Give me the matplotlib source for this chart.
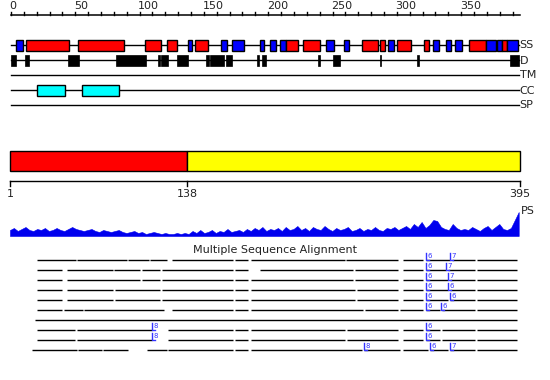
import matplotlib.pyplot as plt
import numpy as np

SEQ_LEN = 395

# secondary structure: H = helix (red), E = strand (blue)
SS_START = [4, 12, 52, 104, 121, 138, 143, 163, 172, 194, 201, 209, 214, 227, 245, 259,
            273, 287, 293, 300, 321, 328, 338, 345, 356, 369, 378, 382, 386]
SS_END   = [9, 45, 88, 117, 129, 141, 153, 168, 181, 197, 206, 214, 223, 240, 251, 263,
            285, 291, 298, 311, 325, 333, 342, 351, 369, 377, 382, 386, 394]
SS_TYPE  = ['E', 'H', 'H', 'H', 'H', 'E', 'H', 'E', 'E', 'E', 'E', 'E', 'H', 'H', 'E', 'E',
            'H', 'H', 'E', 'H', 'H', 'E', 'E', 'E', 'H', 'E', 'E', 'H', 'E']

# disordered regions
D_START = [0, 11, 44, 82, 114, 117, 129, 152, 155, 167, 191, 195, 239, 250, 287, 316, 388]
D_END   = [4, 14, 53, 105, 116, 122, 138, 154, 166, 172, 193, 198, 240, 256, 288, 317, 395]

# coiled coils
CC_START = [20, 55]
CC_END   = [42, 84]

# domains
DOM_START = [1, 138]
DOM_END   = [138, 395]
DOM_COLOR = ['#ff0000', '#ffff00']

# PS profile, one value every 3 residues (pixel height above baseline)
PS_POS = list(range(1, 396, 3))
PS_VAL = [6, 8, 5, 7, 9, 6, 5, 7, 6, 8,
          5, 6, 8, 6, 5, 7, 9, 7, 6, 5,
          6, 7, 5, 4, 6, 5, 4, 5, 6, 4,
          3, 4, 5, 3, 4, 2, 3, 4, 3, 2,
          3, 2, 2, 3, 2, 3, 2, 5, 3, 6,
          3, 4, 6, 3, 5, 4, 7, 4, 5, 6,
          4, 7, 5, 8, 6, 9, 5, 7, 6, 8,
          5, 9, 6, 7, 10, 6, 8, 5, 9, 7,
          6, 10, 7, 5, 8, 6, 7, 9, 5, 6,
          8, 5, 7, 6, 9, 6, 5, 8, 7, 9,
          6, 8, 10, 7, 12, 9, 14, 8, 11, 16,
          15, 9, 7, 6, 12, 8, 6, 7, 6, 9,
          7, 5, 8, 10, 6, 9, 12, 7, 6, 8,
          16, 24]

# multiple sequence alignment rows: segments (start, end) in alignment columns
MSA_ROWS = [
    [(37, 76), (77, 127), (128, 149), (150, 167), (172, 233), (235, 248), (251, 345), (346, 398), (403, 423), (426, 450), (452, 475), (477, 517)],
    [(37, 62), (67, 113), (114, 140), (142, 160), (162, 233), (235, 248), (260, 353), (355, 398), (403, 423), (426, 446), (448, 475), (477, 517)],
    [(37, 62), (67, 140), (142, 160), (162, 233), (235, 248), (251, 353), (355, 398), (403, 423), (426, 448), (450, 475), (477, 517)],
    [(37, 62), (67, 113), (115, 160), (162, 233), (235, 248), (251, 355), (357, 398), (403, 423), (426, 448), (450, 475), (477, 517)],
    [(37, 62), (67, 113), (115, 160), (162, 233), (235, 248), (251, 355), (357, 398), (403, 423), (426, 448), (450, 475), (477, 517)],
    [(37, 62), (64, 83), (84, 164), (172, 233), (235, 248), (251, 363), (365, 398), (400, 423), (426, 440), (442, 475), (477, 517)],
    [(35, 517)],
    [(37, 75), (77, 152), (168, 233), (235, 248), (251, 345), (347, 398), (403, 423), (426, 440), (442, 475), (477, 517)],
    [(37, 75), (77, 152), (168, 233), (235, 248), (251, 345), (347, 398), (403, 423), (426, 440), (442, 475), (477, 517)],
    [(32, 77), (78, 102), (103, 128), (147, 167), (168, 233), (235, 248), (251, 362), (364, 400), (403, 428), (430, 448), (450, 475), (477, 517)],
]
# blue motif markers: (row, column, label)
MARK_ROW = [0, 0, 1, 1, 2, 2, 3, 3, 4, 4, 5, 5, 7, 7, 8, 8, 9, 9, 9]
MARK_COL = [426, 450, 426, 446, 426, 448, 426, 448, 426, 450, 426, 441, 152, 426, 152, 426, 364, 430, 450]
MARK_TXT = ['6', '7', '6', '7', '6', '7', '6', '6', '6', '6', '6', '6', '8', '6', '8', '6', '8', '6', '7']

fig = plt.figure(figsize=(5.5, 3.8), dpi=100)


def overlay(xlim):
    ax = fig.add_axes([0, 0, 1, 1])
    ax.set_xlim(*xlim)
    ax.set_ylim(380, 0)
    ax.axis('off')
    return ax


# ---- top panel: residue ruler + feature tracks ----
sc = 508 / SEQ_LEN
ax = overlay((-11 / sc, (550 - 11) / sc))
ax.plot([0, SEQ_LEN + 1], [15, 15], color='black', lw=1.1)
for t in range(0, SEQ_LEN, 10):
    ax.plot([t, t], [11.5, 15], color='black', lw=1)
    if t % 50 == 0:
        ax.text(t - 1, 11, str(t), fontsize=8, ha='left', va='bottom', color='#222222')

TRACKS = ['SS', 'D', 'TM', 'CC', 'SP']
TRACK_Y = [45, 60, 75, 90, 105]
for name, y in zip(TRACKS, TRACK_Y):
    ax.plot([0, SEQ_LEN], [y, y], color='black', lw=1, zorder=1)
    ax.text(SEQ_LEN + 0.5, y + 0.5, name, fontsize=8, va='center', ha='left', color='#222222')

for s, e, k in zip(SS_START, SS_END, SS_TYPE):
    ax.add_patch(plt.Rectangle((s, 40), e - s, 10.5, facecolor='#ff0000' if k == 'H' else '#0000ff',
                               edgecolor='black', lw=1, zorder=2))
for s, e in zip(D_START, D_END):
    ax.add_patch(plt.Rectangle((s, 55), e - s, 11, facecolor='black', edgecolor='black', lw=0.5, zorder=2))
for s, e in zip(CC_START, CC_END):
    ax.add_patch(plt.Rectangle((s, 84.5), e - s, 11, facecolor='#00ffff', edgecolor='black', lw=1, zorder=2))

# ---- domain bar, ruler and PS profile ----
sc2 = 510 / (SEQ_LEN - 1)
ax2 = overlay((1 - 10 / sc2, 1 + 540 / sc2))
for s, e, c in zip(DOM_START, DOM_END, DOM_COLOR):
    ax2.add_patch(plt.Rectangle((s, 150.5), e - s, 20, facecolor=c, edgecolor='black', lw=1))
ax2.plot([1, SEQ_LEN], [181, 181], color='black', lw=1)
for t in [1, 138, 395]:
    ax2.plot([t, t], [181, 185.5], color='black', lw=1)
    ax2.text(t, 189, str(t), fontsize=8, ha='center', va='top', color='#222222')

ps = np.array(PS_VAL, dtype=float)
ax2.fill_between(PS_POS, 236 - ps, 236, color='#0000ee', lw=0.4, edgecolor='#0000ee')
ax2.text(SEQ_LEN + 0.5, 211, 'PS', fontsize=8, ha='left', va='center', color='#222222')

# ---- multiple sequence alignment ----
ax3 = overlay((0, 550))
ax3.text(275, 250, 'Multiple Sequence Alignment', fontsize=8, ha='center', va='center', color='#222222')
for i, row in enumerate(MSA_ROWS):
    y = 260 + 10 * i
    for s, e in row:
        ax3.plot([s, e], [y, y], color='black', lw=1, solid_capstyle='butt')
for r, c, t in zip(MARK_ROW, MARK_COL, MARK_TXT):
    y = 260 + 10 * r
    ax3.plot([c, c, c + 3], [y - 7, y, y], color='#3333ff', lw=1)
    ax3.text(c + 1.5, y - 6.5, t, fontsize=5, color='#3333ff', ha='left', va='top')

fig.savefig('out.png', dpi=100)
